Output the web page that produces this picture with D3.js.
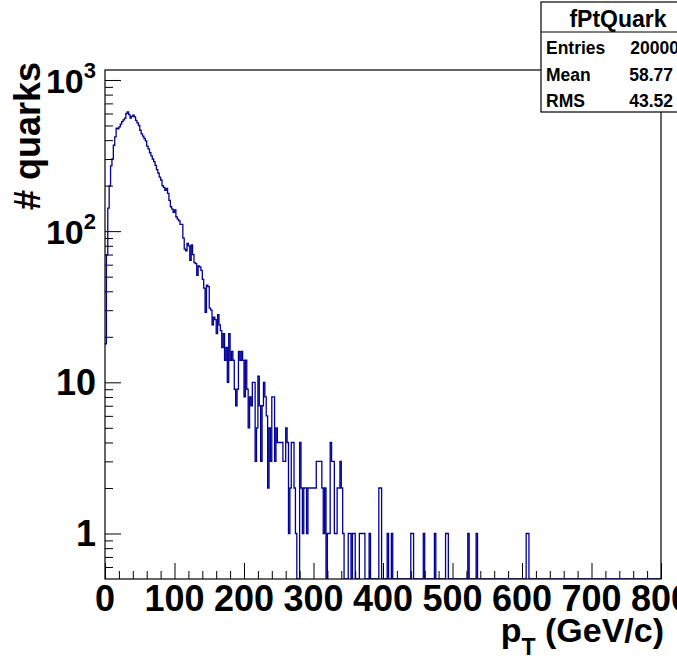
<!DOCTYPE html>
<html>
<head>
<meta charset="utf-8">
<script src="https://cdn.jsdelivr.net/npm/d3@7"></script>
<style>
  body { margin: 0; background: #fff; }
  text { font-family: "Liberation Sans", Arial, Helvetica, sans-serif; font-weight: bold; fill: #000; }
</style>
</head>
<body>
<script>
// fPtQuark histogram, 400 bins of 2 GeV/c from 0 to 800
const binWidth = 2;
const nBins = 400;

// bin contents, bins 0..171 (0-344 GeV/c)
const counts = [
  18, 70, 142, 200, 270, 300, 370, 420, 480, 475,
  490, 510, 530, 545, 560, 600, 615, 590, 560, 575,
  585, 570, 540, 520, 500, 465, 440, 425, 410, 395,
  365, 350, 330, 315, 300, 288, 272, 255, 242, 228,
  218, 200, 195, 186, 192, 178, 160, 145, 140, 133,
  138, 124, 120, 117, 111, 111, 90, 76, 74, 83,
  80, 64, 81, 70, 62, 61, 51, 59, 58, 55,
  48, 42, 29, 44, 43, 31, 30, 24, 27, 26,
  21, 28, 24, 22, 17, 21, 14, 17, 10, 21,
  14, 16, 14, 9, 7, 9, 16, 14, 16, 14,
  8, 14, 9, 5, 8, 7, 10, 10, 3, 5,
  11, 7, 3, 7, 10, 8, 6, 2, 5, 3,
  8, 8, 3, 5, 4, 4, 4, 4, 3, 3,
  5, 4, 1, 2, 4, 4, 2, 1, 0, 0,
  4, 2, 1, 2, 2, 1, 2, 2, 2, 2,
  2, 2, 3, 3, 3, 3, 2, 1, 2, 0,
  1, 1, 4, 3, 3, 1, 1, 2, 2, 3,
  2, 1
];

// sparse tail above 344 GeV/c: bin index and content
const tailBins   = [175, 176, 178, 179, 183, 184, 185, 186, 190, 197, 198, 203, 206, 220, 221, 229, 237, 245, 246, 261, 267, 303, 304];
const tailCounts = [1,   1,   1,   1,   1,   1,   1,   1,   1,   2,   2,   1,   1,   1,   1,   1,   1,   1,   1,   1,   1,   1,   1];

const xTicks = [0, 100, 200, 300, 400, 500, 600, 700, 800];
const yMajor = [1, 10, 100, 1000];

const statsTitle = "fPtQuark";
const statsNames = ["Entries", "Mean", "RMS"];
const statsValues = ["20000", "58.77", "43.52"];

// full bin array
let bins = [];
for (let i = 0; i < nBins; i++) bins.push(i < counts.length ? counts[i] : 0);
tailBins.forEach(function(b, k) { bins[b] = tailCounts[k]; });

const W = 677, H = 663;
const fLeft = 105, fRight = 661, fTop = 70, fBottom = 579;
const yMin = 0.5, yMax = 1164;
const lineColor = "#000099";

let svg = d3.select("body").append("svg")
  .attr("width", W)
  .attr("height", H);

let x = d3.scaleLinear().domain([0, nBins * binWidth]).range([fLeft, fRight]);
let y = d3.scaleLog().domain([yMin, yMax]).range([fBottom, fTop]);

function label(g, tx, ty, str, size, anchor) {
  return g.append("text")
    .attr("x", tx).attr("y", ty)
    .attr("text-anchor", anchor)
    .style("font-size", size + "px")
    .text(str);
}

// histogram
svg.append("clipPath").attr("id", "frameClip")
  .append("rect").attr("x", fLeft).attr("y", fTop)
  .attr("width", fRight - fLeft).attr("height", fBottom - fTop);

let pts = bins.map(function(v, i) { return [i * binWidth, v]; });
pts.push([nBins * binWidth, bins[nBins - 1]]);

let hline = d3.line()
  .curve(d3.curveStepAfter)
  .x(function(d) { return x(d[0]); })
  .y(function(d) { return y(Math.max(d[1], yMin)); });

svg.append("path")
  .attr("d", hline(pts))
  .attr("clip-path", "url(#frameClip)")
  .attr("fill", "none")
  .attr("stroke", lineColor)
  .attr("stroke-width", 1.3);

// x axis ticks (inside the frame)
let xMinor = d3.range(0, 801, 20).filter(function(v) { return v % 100 != 0; });
svg.append("g")
  .attr("transform", "translate(0," + fBottom + ")")
  .call(d3.axisBottom(x).tickValues(xTicks).tickSize(-16).tickFormat(""))
  .call(function(g) { g.select(".domain").remove(); });
svg.append("g")
  .attr("transform", "translate(0," + fBottom + ")")
  .call(d3.axisBottom(x).tickValues(xMinor).tickSize(-8).tickFormat(""))
  .call(function(g) { g.select(".domain").remove(); });

// y axis ticks (log)
let yMinor = [];
[0.1, 1, 10, 100].forEach(function(dec) {
  for (let k = 2; k <= 9; k++) {
    let v = dec * k;
    if (v > yMin && v < yMax) yMinor.push(v);
  }
});
svg.append("g")
  .attr("transform", "translate(" + fLeft + ",0)")
  .call(d3.axisLeft(y).tickValues(yMajor).tickSize(-16).tickFormat(""))
  .call(function(g) { g.select(".domain").remove(); });
svg.append("g")
  .attr("transform", "translate(" + fLeft + ",0)")
  .call(d3.axisLeft(y).tickValues(yMinor).tickSize(-8).tickFormat(""))
  .call(function(g) { g.select(".domain").remove(); });

svg.selectAll(".tick line").attr("stroke", "#000").attr("stroke-width", 1);

// frame
svg.append("rect")
  .attr("x", fLeft).attr("y", fTop)
  .attr("width", fRight - fLeft).attr("height", fBottom - fTop)
  .attr("fill", "none").attr("stroke", "#000").attr("stroke-width", 1.2);

// x tick labels
xTicks.forEach(function(v) {
  label(svg, x(v), 611, String(v), 36, "middle");
});

// y tick labels
yMajor.forEach(function(v) {
  let p = Math.round(Math.log10(v));
  if (p < 2) {
    label(svg, 96, y(v) + 13, String(v), 36, "end");
  } else {
    let t = label(svg, 96, y(v) + 13, "", 34, "end");
    t.append("tspan").text("10");
    t.append("tspan").attr("dy", -15).style("font-size", "22px").text(String(p));
  }
});

// axis titles
let xt = label(svg, 664, 642, "", 34, "end");
xt.append("tspan").text("p");
xt.append("tspan").attr("dy", 13).style("font-size", "23px").text("T");
xt.append("tspan").attr("dy", -13).text(" (GeV/c)");

svg.append("text")
  .attr("transform", "translate(40,62) rotate(-90)")
  .attr("text-anchor", "end")
  .style("font-size", "36px")
  .text("# quarks");

// stats box
let sb = svg.append("g");
sb.append("rect")
  .attr("x", 541).attr("y", 2)
  .attr("width", 150).attr("height", 110)
  .attr("fill", "#fff").attr("stroke", "#000").attr("stroke-width", 1.2);
sb.append("line")
  .attr("x1", 541).attr("x2", 691).attr("y1", 32).attr("y2", 32)
  .attr("stroke", "#000").attr("stroke-width", 1.2);
label(sb, 618, 27, statsTitle, 23, "middle");
statsNames.forEach(function(n, i) {
  label(sb, 546, 54 + i * 26.5, n, 17.5, "start");
  label(sb, i == 0 ? 679 : 673, 54 + i * 26.5, statsValues[i], 17.5, "end");
});
</script>
</body>
</html>
